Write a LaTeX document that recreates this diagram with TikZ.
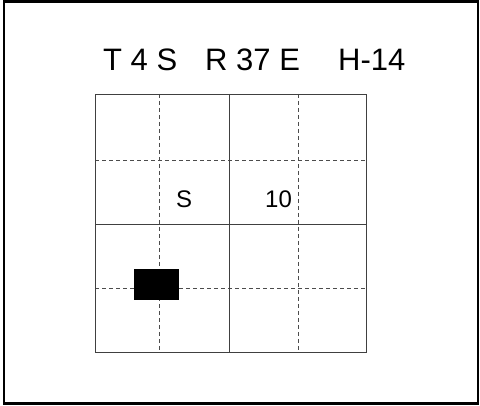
\documentclass[tikz,border=0pt]{standalone}
\usepackage{fontspec}
\setmainfont{Liberation Sans}
\tikzset{
  gridline/.style={draw=black!75, line width=0.9pt},
  griddash/.style={draw=black!70, line width=0.8pt, dash pattern=on 4pt off 3pt},
  title/.style={anchor=base west, inner sep=0pt, font=\fontsize{31}{32}\selectfont},
  cell/.style={anchor=base west, inner sep=0pt, font=\fontsize{24}{25}\selectfont}
}
\begin{document}
\begin{tikzpicture}[x=1pt,y=-1pt]
\useasboundingbox (0,0) rectangle (480,406);
% outer frame
\draw[line width=2.2pt] (4,1.5) rectangle (478,403.5);
% grid
\draw[griddash] (159,94) -- (159,352);
\draw[griddash] (298,94) -- (298,352);
\draw[griddash] (95,160) -- (366,160);
\draw[griddash] (95,288) -- (366,288);
\draw[gridline] (229,94) -- (229,352);
\draw[gridline] (95,224) -- (366,224);
\draw[gridline] (95,94) rectangle (366,352);
% black block
\fill[black] (134,269) rectangle (179,300);
% texts
\node[title] (t1) at (103,71) {T 4 S};
\node[title] (t2) at (205,71) {R 37 E};
\node[title] (t3) at (338,71) {H-14};
\node[cell] (s) at (176,207.5) {S};
\node[cell] (ten) at (265,207.5) {10};
\end{tikzpicture}
\end{document}
